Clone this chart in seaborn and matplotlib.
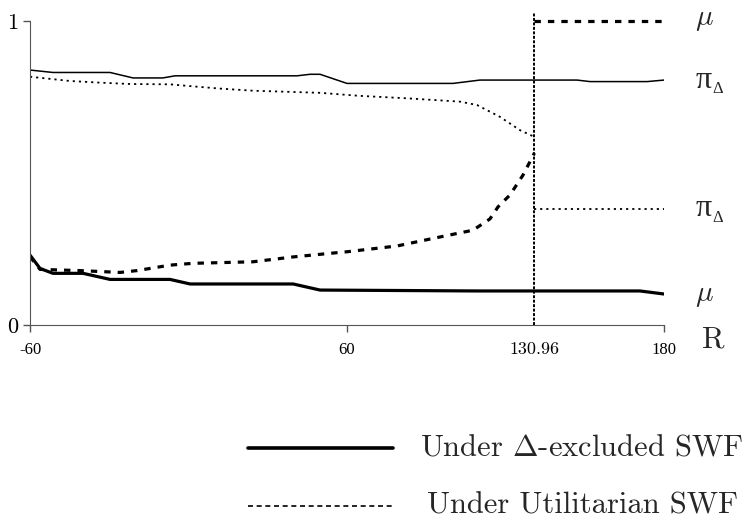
import numpy as np
import pandas as pd
import seaborn as sns
import matplotlib.pyplot as plt
from matplotlib.lines import Line2D

sns.set_style("ticks")
plt.rcParams["mathtext.fontset"] = "cm"
plt.rcParams["font.family"] = ["Liberation Serif", "DejaVu Serif"]

r_star = 130.96

# mu under Delta-excluded SWF (thick solid)
mu_ex_x = [-60, -56.2, -51.3, -39.9, -29.7, -7.0, 0.6, 39.6, 49.8, 109.6, 170.9, 180]
mu_ex_y = [0.230, 0.186, 0.170, 0.170, 0.150, 0.150, 0.135, 0.135, 0.115, 0.112, 0.112, 0.102]

# pi_Delta under Delta-excluded SWF (thin solid)
pi_ex_x = [-60, -51.3, -29.7, -21.0, -9.7, -5.1, 41.1, 46.0, 49.8, 60.0, 100.1, 110.3, 147.1, 152.0, 173.6, 180]
pi_ex_y = [0.839, 0.831, 0.831, 0.813, 0.813, 0.820, 0.820, 0.825, 0.825, 0.795, 0.795, 0.806, 0.806, 0.801, 0.801, 0.806]

# mu under Utilitarian SWF (thick dashed), up to r_star
mu_ut_x = [-60, -56.2, -41.1, -25.9, -19.5, -7.0, 1.7, 24.4, 39.6, 56.2, 60.0, 78.9, 92.6, 107.7, 114.1, 117.2, 121.7, 126.6, r_star]
mu_ut_y = [0.225, 0.183, 0.179, 0.173, 0.179, 0.197, 0.203, 0.208, 0.224, 0.238, 0.241, 0.260, 0.285, 0.312, 0.349, 0.389, 0.428, 0.493, 0.566]

# pi_Delta under Utilitarian SWF (thin dotted), up to r_star
pi_ut_x = [-60, -44.9, -34.6, -22.1, -7.0, -0.6, 11.9, 24.4, 49.8, 64.9, 82.7, 102.8, 109.2, 117.9, 125.5, r_star]
pi_ut_y = [0.817, 0.803, 0.798, 0.793, 0.792, 0.787, 0.778, 0.771, 0.764, 0.754, 0.746, 0.735, 0.724, 0.685, 0.641, 0.619]

# Utilitarian values after the threshold
after_x = [r_star, 180]
mu_after = [1.0, 1.0]
pi_after = [0.382, 0.382]

fig = plt.figure(figsize=(7.47, 5.23), dpi=100)
ax = fig.add_axes([30 / 747, 198 / 523, 634 / 747, 313 / 523])

sns.lineplot(x=mu_ex_x, y=mu_ex_y, ax=ax, color="black", lw=2.3, sort=False)
sns.lineplot(x=pi_ex_x, y=pi_ex_y, ax=ax, color="black", lw=1.1, sort=False)
sns.lineplot(x=mu_ut_x, y=mu_ut_y, ax=ax, color="black", lw=2.3, linestyle=(0, (2, 2.2)), sort=False)
sns.lineplot(x=pi_ut_x, y=pi_ut_y, ax=ax, color="black", lw=1.3, linestyle=(0, (1.2, 2.2)), sort=False)
sns.lineplot(x=after_x, y=mu_after, ax=ax, color="black", lw=2.3, linestyle=(0, (2, 2.2)), sort=False)
sns.lineplot(x=after_x, y=pi_after, ax=ax, color="black", lw=1.3, linestyle=(0, (1.2, 2.2)), sort=False)
ax.axvline(r_star, color="black", lw=1.4, linestyle=(0, (1.5, 0.8)), ymax=1.0)

ax.set_xlim(-60, 180)
ax.set_ylim(0, 1.03)
for s in ["top", "right"]:
    ax.spines[s].set_visible(False)
ax.spines["left"].set_bounds(0, 1)
ax.spines["left"].set_color("#555555")
ax.spines["bottom"].set_color("#555555")
ax.tick_params(colors="#555555", length=5, width=1, labelcolor="black")

ax.set_xticks([-60, 60, r_star, 180])
ax.set_xticklabels(["-60", "60", "130.96", "180"], fontsize=12)
ax.xaxis.get_major_ticks()[2].tick1line.set_visible(False)
ax.get_xticklabels()[2].set_fontfamily("cmr10")
ax.get_xticklabels()[2].set_fontsize(13)
ax.tick_params(axis="x", pad=7)
ax.set_yticks([0, 1])
ax.set_yticklabels(["0", "1"], fontsize=16, family="cmr10")

# right side labels
fig.text(704 / 747, 1 - 20 / 523, r"$\mu$", fontsize=21, ha="center", va="center")
fig.text(704 / 747, 1 - 296 / 523, r"$\mu$", fontsize=21, ha="center", va="center")
for yy in [80, 209]:
    fig.text(696 / 747, 1 - yy / 523, "π", fontsize=23, family="Liberation Serif", ha="left", va="center")
    fig.text(712 / 747, 1 - (yy + 9) / 523, "Δ", fontsize=12, family="Liberation Serif", ha="left", va="center")
fig.text(713 / 747, 1 - 340 / 523, "R", fontsize=22, family="cmr10", ha="center", va="center")

# legend
fig.add_artist(Line2D([248 / 747, 393 / 747], [1 - 448 / 523, 1 - 448 / 523], color="black", lw=2.6))
fig.add_artist(Line2D([248 / 747, 393 / 747], [1 - 506 / 523, 1 - 506 / 523], color="black", lw=1.2,
                      linestyle=(0, (3, 2.2))))
fig.text(420 / 747, 1 - 448 / 523, r"Under $\Delta$-excluded SWF", fontsize=22, family="cmr10", ha="left", va="center")
fig.text(427 / 747, 1 - 506 / 523, "Under Utilitarian SWF", fontsize=22, family="cmr10", ha="left", va="center")

fig.savefig("out.png", dpi=100)
